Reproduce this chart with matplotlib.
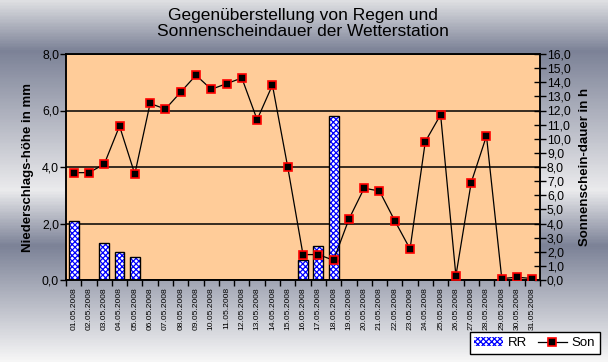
import numpy as np
import matplotlib
matplotlib.use('Agg')
import matplotlib.pyplot as plt
from matplotlib.colors import LinearSegmentedColormap
from matplotlib.patches import Patch
from matplotlib.lines import Line2D
from matplotlib.ticker import FuncFormatter, MultipleLocator

# data
dates = ['%02d.05.2008' % d for d in range(1, 32)]
rain_mm = [2.1, 0, 1.3, 1.0, 0.8, 0, 0, 0, 0, 0, 0, 0, 0, 0, 0,
           0.7, 1.2, 5.8, 0, 0, 0, 0, 0, 0, 0, 0, 0, 0, 0, 0, 0]
sun_h = [7.6, 7.6, 8.2, 10.9, 7.5, 12.5, 12.1, 13.3, 14.5, 13.5, 13.9,
         14.3, 11.35, 13.8, 8.0, 1.8, 1.8, 1.4, 4.3, 6.5, 6.3, 4.2, 2.2,
         9.8, 11.7, 0.3, 6.9, 10.2, 0.1, 0.2, 0.1]

title = 'Gegenüberstellung von Regen und\nSonnenscheindauer der Wetterstation'

plt.rcParams['font.family'] = ['Liberation Sans', 'DejaVu Sans']
plt.rcParams['hatch.linewidth'] = 0.9

fig = plt.figure(figsize=(6.08, 3.62), dpi=100)

# gradient background
bg = fig.add_axes([0, 0, 1, 1], zorder=-10)
cmap = LinearSegmentedColormap.from_list('bg', [
    (0.0, '#dedfe2'), (0.138, '#7c8297'), (0.525, '#ebebed'),
    (0.68, '#7c8297'), (1.0, '#f6f6f6')])
grad = np.linspace(0, 1, 362).reshape(-1, 1)
bg.imshow(grad, aspect='auto', cmap=cmap, extent=[0, 1, 1, 0])
bg.set_axis_off()

ax = fig.add_axes([66 / 608, 1 - 280 / 362, 474 / 608, 226 / 362])
ax.set_facecolor('#ffcc99')
x = np.arange(1, len(dates) + 1)

# bars: blue checker hatch, black outline on top
ax.bar(x, rain_mm, width=0.65, color='white', edgecolor='#0000ff',
       hatch='xxxxxx', linewidth=0, zorder=2)
ax.bar(x, rain_mm, width=0.65, fill=False, edgecolor='black',
       linewidth=1.0, zorder=3)

ax.set_xlim(0.5, len(dates) + 0.5)
ax.set_ylim(0, 8)
ax.yaxis.set_major_locator(MultipleLocator(2))
comma = FuncFormatter(lambda v, p: ('%.1f' % v).replace('.', ','))
ax.yaxis.set_major_formatter(comma)
ax.grid(axis='y', color='black', linewidth=1.1)
ax.set_axisbelow(True)

ax.set_xticks(np.arange(0.5, len(dates) + 1))
ax.set_xticklabels([])
ax.set_xticks(x, minor=True)
ax.set_xticklabels(dates, minor=True, rotation=90, fontsize=6.1)
ax.tick_params(axis='x', which='major', direction='out', length=4, width=1)
ax.tick_params(axis='x', which='minor', length=0, pad=5)
ax.tick_params(axis='y', direction='out', length=4, width=1, labelsize=8.8, pad=1)
ax.set_ylabel('Niederschlags-höhe in mm', fontsize=9.5, fontweight='bold', labelpad=6)
for s in ax.spines.values():
    s.set_linewidth(1.1)

ax2 = ax.twinx()
ax2.plot(x, sun_h, color='black', linewidth=0.9, marker='s', markersize=5.2,
         markerfacecolor='black', markeredgecolor='#ff0000', markeredgewidth=1.2,
         zorder=5)
ax2.set_ylim(0, 16)
ax2.yaxis.set_major_locator(MultipleLocator(1))
ax2.yaxis.set_major_formatter(comma)
ax2.tick_params(axis='y', direction='inout', length=8, width=1, labelsize=8.8, pad=1)
ax2.set_ylabel('Sonnenschein-dauer in h', fontsize=9.5, fontweight='bold', labelpad=6)
for s in ax2.spines.values():
    s.set_linewidth(1.1)

fig.text(0.498, 0.978, title, ha='center', va='top', fontsize=12.5, linespacing=1.1)

handles = [Patch(facecolor='white', edgecolor='#0000ff', hatch='xxxxxx', linewidth=0),
           Line2D([0], [0], color='black', linewidth=0.9, marker='s', markersize=5.2,
                  markerfacecolor='black', markeredgecolor='#ff0000', markeredgewidth=1.2)]
leg = fig.legend(handles, ['RR', 'Son'], ncol=2, loc='lower right',
                 bbox_to_anchor=(0.997, 0.004), fontsize=9.5, frameon=True,
                 fancybox=False, edgecolor='black', framealpha=1,
                 borderpad=0.35, handlelength=2.2, columnspacing=0.8,
                 handletextpad=0.35)
leg.get_frame().set_linewidth(1.0)

fig.savefig('out.png', dpi=100)
